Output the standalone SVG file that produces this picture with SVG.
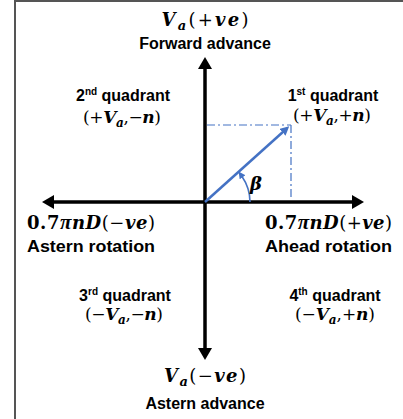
<svg xmlns="http://www.w3.org/2000/svg" width="403" height="419" viewBox="0 0 403 419">
<style>
.m{font-family:"DejaVu Serif","Liberation Serif",serif;font-size:18px;font-weight:bold;fill:#000}
.c{font-size:17px}
.i{font-style:italic}
.u{font-weight:normal;font-style:normal}
.pi{font-family:"Liberation Serif",serif;font-size:21px}
.t{font-family:"Liberation Sans","Arial",sans-serif;font-size:16px;font-weight:bold;fill:#000}
.sup{font-size:10px}
.ax{stroke:#000;stroke-width:3.5;fill:none}
.bl{stroke:#4472C4;fill:none}
.dd{stroke:#4472C4;stroke-width:1.2;stroke-dasharray:8 3 2 3;fill:none}
</style>
<defs>
<marker id="ah" markerUnits="userSpaceOnUse" markerWidth="13" markerHeight="14" refX="0" refY="7" orient="auto-start-reverse">
<path d="M0,0 L12,7 L0,14 z" fill="#000"/>
</marker>
<marker id="bh" markerUnits="userSpaceOnUse" markerWidth="10" markerHeight="10" refX="2" refY="4.5" orient="auto">
<path d="M0,0 L9,4.5 L0,9 z" fill="#4472C4"/>
</marker>
<marker id="sh" markerUnits="userSpaceOnUse" markerWidth="8" markerHeight="8" refX="1" refY="3.5" orient="auto">
<path d="M0,0 L7,3.5 L0,7 z" fill="#4472C4"/>
</marker>
</defs>
<g id="frame">
<line x1="15" y1="1" x2="403" y2="1" stroke="#555" stroke-width="2"/>
<line x1="15" y1="0" x2="15" y2="419" stroke="#555" stroke-width="2"/>
</g>
<g id="connectors">
<line class="ax" x1="205" y1="69" x2="205" y2="348" marker-start="url(#ah)" marker-end="url(#ah)"/>
<line class="ax" x1="54" y1="202" x2="352" y2="202" marker-start="url(#ah)" marker-end="url(#ah)"/>
<line class="dd" x1="207" y1="125" x2="291" y2="125"/>
<line class="dd" x1="291" y1="125" x2="291" y2="200"/>
<line class="bl" stroke-width="2.5" x1="205" y1="202" x2="284" y2="131" marker-end="url(#bh)"/>
<path class="bl" stroke-width="1.6" d="M250,202 A45,45 0 0 0 242,176.5" marker-end="url(#sh)"/>
</g>
<g id="beta"><text class="m i" x="250" y="190" font-size="22">β</text></g>
<g id="top">
<text class="m" x="205" y="26" text-anchor="middle" textLength="87" lengthAdjust="spacing"><tspan class="i">V</tspan><tspan class="i" font-size="13" dy="4">a</tspan><tspan class="u" dy="-4">(+</tspan><tspan class="i">ve</tspan><tspan class="u">)</tspan></text>
<text class="t" x="205" y="49" text-anchor="middle">Forward advance</text>
</g>
<g id="q2">
<text class="t" x="123" y="101" text-anchor="middle">2<tspan class="sup" dy="-6">nd</tspan><tspan dy="6"> quadrant</tspan></text>
<text class="m c" x="122" y="123" text-anchor="middle" textLength="78" lengthAdjust="spacing"><tspan class="u">(+</tspan><tspan class="i">V</tspan><tspan class="i" font-size="12" dy="4">a</tspan><tspan class="u" dy="-4">,−</tspan><tspan class="i">n</tspan><tspan class="u">)</tspan></text>
</g>
<g id="q1">
<text class="t" x="333" y="101" text-anchor="middle">1<tspan class="sup" dy="-6">st</tspan><tspan dy="6"> quadrant</tspan></text>
<text class="m c" x="332" y="121" text-anchor="middle" textLength="78" lengthAdjust="spacing"><tspan class="u">(+</tspan><tspan class="i">V</tspan><tspan class="i" font-size="12" dy="4">a</tspan><tspan class="u" dy="-4">,+</tspan><tspan class="i">n</tspan><tspan class="u">)</tspan></text>
</g>
<g id="left">
<text class="m" x="27" y="229" textLength="128" lengthAdjust="spacing">0.7<tspan class="i pi">π</tspan><tspan class="i">nD</tspan><tspan class="u">(−</tspan><tspan class="i">ve</tspan><tspan class="u">)</tspan></text>
<text class="t" x="27" y="252" textLength="128" lengthAdjust="spacingAndGlyphs">Astern rotation</text>
</g>
<g id="right">
<text class="m" x="265" y="229" textLength="127" lengthAdjust="spacing">0.7<tspan class="i pi">π</tspan><tspan class="i">nD</tspan><tspan class="u">(+</tspan><tspan class="i">ve</tspan><tspan class="u">)</tspan></text>
<text class="t" x="265" y="252" textLength="127" lengthAdjust="spacingAndGlyphs">Ahead rotation</text>
</g>
<g id="q3">
<text class="t" x="125" y="301" text-anchor="middle">3<tspan class="sup" dy="-6">rd</tspan><tspan dy="6">  quadrant</tspan></text>
<text class="m c" x="124" y="320" text-anchor="middle" textLength="78" lengthAdjust="spacing"><tspan class="u">(−</tspan><tspan class="i">V</tspan><tspan class="i" font-size="12" dy="4">a</tspan><tspan class="u" dy="-4">,−</tspan><tspan class="i">n</tspan><tspan class="u">)</tspan></text>
</g>
<g id="q4">
<text class="t" x="335" y="301" text-anchor="middle">4<tspan class="sup" dy="-6">th</tspan><tspan dy="6"> quadrant</tspan></text>
<text class="m c" x="335" y="320" text-anchor="middle" textLength="80" lengthAdjust="spacing"><tspan class="u">(−</tspan><tspan class="i">V</tspan><tspan class="i" font-size="12" dy="4">a</tspan><tspan class="u" dy="-4">,+</tspan><tspan class="i">n</tspan><tspan class="u">)</tspan></text>
</g>
<g id="bottom">
<text class="m" x="205" y="382" text-anchor="middle" textLength="82" lengthAdjust="spacing"><tspan class="i">V</tspan><tspan class="i" font-size="13" dy="4">a</tspan><tspan class="u" dy="-4">(−</tspan><tspan class="i">ve</tspan><tspan class="u">)</tspan></text>
<text class="t" x="205" y="409" text-anchor="middle">Astern advance</text>
</g>
</svg>
